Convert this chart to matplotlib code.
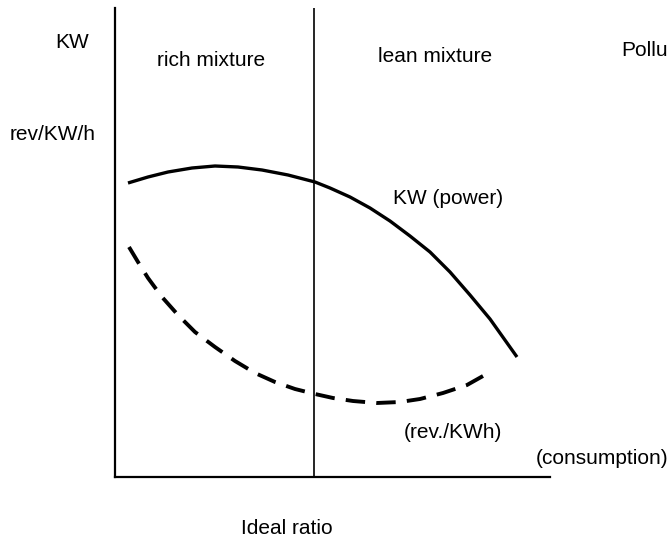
import matplotlib
matplotlib.use("Agg")
import matplotlib.pyplot as plt
import numpy as np

# Schematic curves (arbitrary units: x = air/fuel ratio, y = magnitude)
power_x = [13, 33, 53, 77, 100, 123, 147, 173, 200, 215, 235, 255, 275, 295, 315, 335, 355, 375, 402]
power_y = [294, 300, 305, 309, 311, 310, 307, 302, 295, 289, 280, 269, 256, 241, 225, 205, 182, 158, 120]
cons_x = [14, 23, 33, 47, 63, 80, 100, 120, 140, 160, 180, 200, 218, 238, 262, 285, 305, 328, 352, 368]
cons_y = [230, 215, 199, 180, 162, 145, 130, 116, 104, 95, 88, 83, 79, 76, 74, 75, 78, 84, 92, 101]
ideal_x = 199

W, H = 669, 539
fig = plt.figure(figsize=(W / 100, H / 100), dpi=100)
plt.rcParams['font.family'] = ['Liberation Sans', 'DejaVu Sans']

ax = fig.add_axes([115 / W, (H - 477) / H, (550 - 115) / W, (477 - 8) / H])
ax.set_xlim(0, 435)
ax.set_ylim(0, 469)
for s in ['top', 'right']:
    ax.spines[s].set_visible(False)
for s in ['left', 'bottom']:
    ax.spines[s].set_linewidth(1.6)
    ax.spines[s].set_color('black')
ax.set_xticks([])
ax.set_yticks([])
ax.patch.set_alpha(0)

ax.axvline(ideal_x, color='black', lw=1.2)
ax.plot(power_x, power_y, color='black', lw=2.4, solid_capstyle='butt',
        solid_joinstyle='round')

# dashed curve: fit a whole number of dashes so it ends on a full dash
lw = 2.8
pts = ax.transData.transform(np.column_stack([cons_x, cons_y]))
L = np.sum(np.hypot(*np.diff(pts, axis=0).T)) * 72 / fig.dpi / lw
on, off = 5.0, 2.6
n = int(round((L + off) / (on + off)))
off = (L - n * on) / (n - 1)
ax.plot(cons_x, cons_y, color='black', lw=lw, dashes=(on, off),
        dash_joinstyle='round')

# overlay for labels in pixel coordinates
ov = fig.add_axes([0, 0, 1, 1])
ov.set_xlim(0, W)
ov.set_ylim(H, 0)
ov.axis('off')
ov.patch.set_alpha(0)

fs = 15
ov.text(72, 42, 'KW', fontsize=fs, ha='center', va='center')
ov.text(53, 134, 'rev/KW/h', fontsize=fs, ha='center', va='center')
ov.text(211, 61, 'rich mixture', fontsize=fs, ha='center', va='center')
ov.text(435, 56, 'lean mixture', fontsize=fs, ha='center', va='center')
ov.text(668, 51, 'Pollu', fontsize=fs, ha='right', va='center')
ov.text(393, 199, 'KW (power)', fontsize=fs, ha='left', va='center')
ov.text(453, 433, '(rev./KWh)', fontsize=fs, ha='center', va='center')
ov.text(668, 458, '(consumption)', fontsize=fs, ha='right', va='center')
ov.text(287, 528, 'Ideal ratio', fontsize=fs, ha='center', va='center')

fig.savefig('out.png', dpi=100)
